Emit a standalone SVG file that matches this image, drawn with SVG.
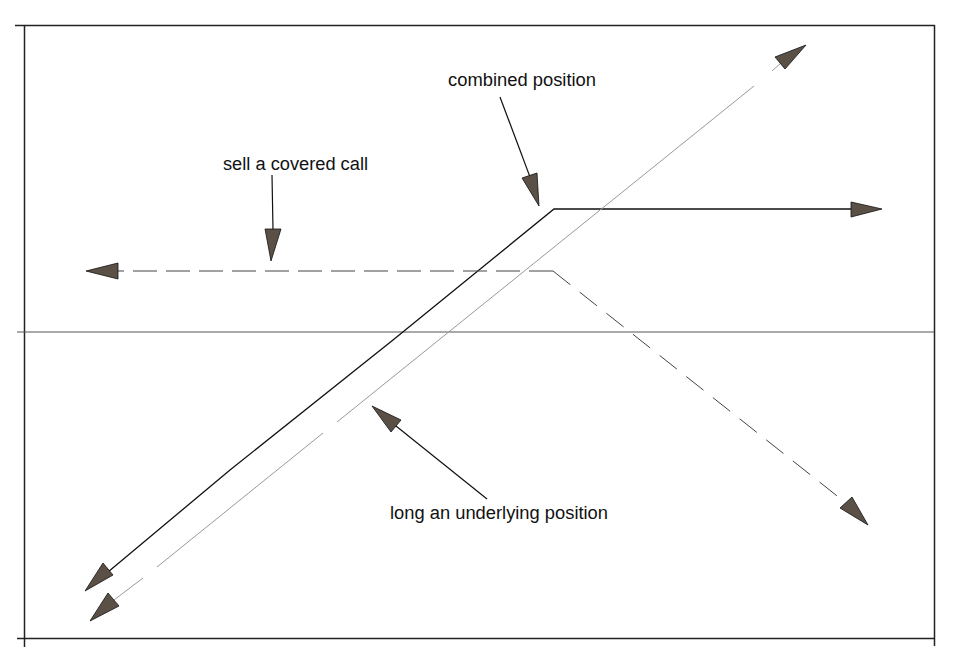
<svg xmlns="http://www.w3.org/2000/svg" width="969" height="670" viewBox="0 0 969 670">
<style>
.frame{stroke:#222;stroke-width:1.5;fill:none}
.axis{stroke:#555;stroke-width:1;fill:none}
.solid{stroke:#111;stroke-width:1.3;fill:none}
.gray{stroke:#999;stroke-width:1;fill:none}
.dash{stroke:#444;stroke-width:1;fill:none;stroke-dasharray:24 9}
.dash2{stroke:#444;stroke-width:1;fill:none;stroke-dasharray:22 12}
.lead{stroke:#111;stroke-width:1.2;fill:none}
.head{fill:#5a5046;stroke:#111;stroke-width:0.8;stroke-linejoin:miter}
.lbl{font-family:"Liberation Sans",Arial,sans-serif;font-size:18px;fill:#111}
</style>
<rect width="969" height="670" fill="#fff"/>
<g id="frame">
<line class="frame" x1="15" y1="25.5" x2="935" y2="25.5"/>
<line class="frame" x1="24.5" y1="25" x2="24.5" y2="647"/>
<line class="frame" x1="934.5" y1="25" x2="934.5" y2="646"/>
<line class="frame" x1="17" y1="638.5" x2="935" y2="638.5"/>
<line class="axis" x1="17" y1="332" x2="934" y2="332"/>
</g>
<g id="connectors">
<polyline id="combined-line" class="solid" points="851,209 554,209 393,340 230,470 108,572"/>
<g id="underlying-line">
<line class="gray" x1="114" y1="600" x2="143" y2="578"/>
<line class="gray" x1="157" y1="567" x2="323" y2="433"/>
<line class="gray" x1="337" y1="422" x2="754" y2="86"/>
<line class="gray" x1="772" y1="71" x2="781" y2="63"/>
</g>
<line id="call-left" class="dash" x1="553" y1="271" x2="118" y2="271"/>
<line id="call-down" class="dash2" x1="553" y1="271" x2="846" y2="503"/>
<line class="lead" x1="272" y1="175" x2="273" y2="230"/>
<line class="lead" x1="500" y1="97" x2="530" y2="177"/>
<line class="lead" x1="487" y1="499" x2="396" y2="426"/>
<polygon class="head" points="806,45 775,57 785,69"/>
<polygon class="head" points="882,209 851,202 851,217"/>
<polygon class="head" points="85,591 103,563 113,575"/>
<polygon class="head" points="90,621 108,593 119,606"/>
<polygon class="head" points="86,271 118,263 118,279"/>
<polygon class="head" points="868,525 840,508 852,497"/>
<polygon class="head" points="271,261 265,229 281,229"/>
<polygon class="head" points="539,206 522,178 537,173"/>
<polygon class="head" points="372,406 401,420 391,432"/>
</g>
<g id="label-combined">
<text class="lbl" x="448" y="86" textLength="148" lengthAdjust="spacingAndGlyphs">combined position</text>
</g>
<g id="label-call">
<text class="lbl" x="223" y="170" textLength="145" lengthAdjust="spacingAndGlyphs">sell a covered call</text>
</g>
<g id="label-underlying">
<text class="lbl" x="390" y="519" textLength="218" lengthAdjust="spacingAndGlyphs">long an underlying position</text>
</g>
</svg>
